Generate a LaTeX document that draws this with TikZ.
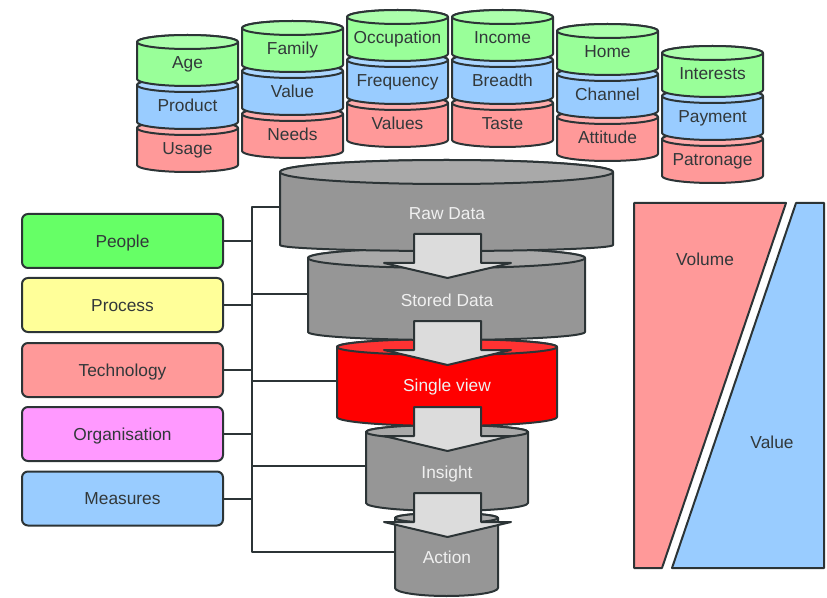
\documentclass[tikz,border=0pt]{standalone}
\usepackage{fontspec}
\setmainfont{Liberation Sans}
\begin{document}
\begin{tikzpicture}[x=0.75pt,y=0.75pt,line join=round]
% palette
\definecolor{ink}{RGB}{44,52,54}
\definecolor{txt}{RGB}{50,56,58}
\definecolor{grn}{RGB}{153,255,153}
\definecolor{grnlid}{RGB}{172,255,172}
\definecolor{blu}{RGB}{153,204,255}
\definecolor{blulid}{RGB}{172,214,255}
\definecolor{rd}{RGB}{255,153,153}
\definecolor{rdlid}{RGB}{255,172,172}
\definecolor{gry}{RGB}{150,150,150}
\definecolor{grylid}{RGB}{169,169,169}
\definecolor{hot}{RGB}{255,0,0}
\definecolor{hotlid}{RGB}{255,50,50}
\definecolor{arrowgray}{RGB}{220,220,220}
\definecolor{cpeople}{RGB}{102,255,102}
\definecolor{cprocess}{RGB}{255,255,153}
\definecolor{ctech}{RGB}{255,153,153}
\definecolor{corg}{RGB}{255,153,255}
\definecolor{cmeas}{RGB}{153,204,255}
\tikzset{
  outline/.style={draw=ink,line width=1.5pt},
  lbl/.style={text=txt,font=\fontsize{13}{15}\selectfont,inner sep=0pt,
    text height=9.3pt,text depth=0pt},
  funlbl/.style={lbl,text=white!94!black},
  factor/.style={outline,rounded corners=4.5pt,minimum width=150.75pt,
    minimum height=40.5pt,inner sep=0pt,lbl},
  conn/.style={draw=ink,line width=1.5pt},
  blockarrow/.style={outline,fill=arrowgray}
}
% cylinder: centre x, half width, lid centre y, lid radius, base centre y, base radius, body colour, lid colour
\newcommand\drum[8]{%
  \path[outline,fill=#7] ({#1-(#2)},{-(#3)}) -- ({#1-(#2)},{-(#5)})
    arc[start angle=180,end angle=360,x radius=#2,y radius=#6]
    -- ({#1+#2},{-(#3)})
    arc[start angle=0,end angle=180,x radius=#2,y radius=#4] -- cycle;
  \path[outline,fill=#8] ({#1},{-(#3)}) ellipse[x radius=#2,y radius=#4];
}
% three-part stack: left x, lid centre y of the top part
\newcommand\stack[2]{%
  \drum{#1+50.5}{50.5}{#2+86}{7}{#2+123}{7}{rd}{rdlid}
  \drum{#1+50.5}{50.5}{#2+43}{7}{#2+80}{7}{blu}{blulid}
  \drum{#1+50.5}{50.5}{#2}{7}{#2+37}{7}{grn}{grnlid}
}
% block arrow: top of shaft y
\newcommand\stagearrow[1]{%
  \path[blockarrow] (414,{-(#1)}) -- (481,{-(#1)}) -- (481,{-(#1+29)}) -- (511,{-(#1+29)})
    -- (447.5,{-(#1+44)}) -- (384,{-(#1+29)}) -- (414,{-(#1+29)}) -- cycle;
}
\useasboundingbox (0,0) rectangle (827,-598);

% attribute stacks
\stack{137}{42}
\stack{242}{28}
\stack{347}{17}
\stack{452}{17}
\stack{557}{31}
\stack{662}{53}
\node[lbl] (age) at (187.5,-62) {Age};
\node[lbl] (product) at (187.5,-105) {Product};
\node[lbl] (usage) at (187.5,-148) {Usage};
\node[lbl] (family) at (292.5,-48) {Family};
\node[lbl] (value) at (292.5,-91) {Value};
\node[lbl] (needs) at (292.5,-134) {Needs};
\node[lbl] (occupation) at (397.5,-37) {Occupation};
\node[lbl] (frequency) at (397.5,-80) {Frequency};
\node[lbl] (values) at (397.5,-123) {Values};
\node[lbl] (income) at (502.5,-37) {Income};
\node[lbl] (breadth) at (502.5,-80) {Breadth};
\node[lbl] (taste) at (502.5,-123) {Taste};
\node[lbl] (home) at (607.5,-51) {Home};
\node[lbl] (channel) at (607.5,-94) {Channel};
\node[lbl] (attitude) at (607.5,-137) {Attitude};
\node[lbl] (interests) at (712.5,-73) {Interests};
\node[lbl] (payment) at (712.5,-116) {Payment};
\node[lbl] (patronage) at (712.5,-159) {Patronage};

% funnel, drawn from the bottom up
\drum{446.5}{51.5}{518}{5}{588}{8}{gry}{grylid}
\drum{447}{81}{432}{7}{503}{8}{gry}{grylid}
\drum{447}{110}{347}{8}{417}{9}{hot}{hotlid}
\drum{446.5}{138.5}{258}{10}{332}{8}{gry}{grylid}
\drum{446.5}{166.5}{172}{12}{245}{6}{gry}{grylid}
\stagearrow{234}
\stagearrow{321}
\stagearrow{407}
\stagearrow{493}
\node[funlbl] (raw) at (447,-213) {Raw Data};
\node[funlbl] (stored) at (447,-300) {Stored Data};
\node[funlbl] (single) at (447,-385) {Single view};
\node[funlbl] (insight) at (447,-472) {Insight};
\node[funlbl] (action) at (447,-557) {Action};

% left edges of the funnel stages
\coordinate (rawL) at (280,-207);
\coordinate (storedL) at (308,-294);
\coordinate (singleL) at (337,-381);
\coordinate (insightL) at (366,-466);
\coordinate (actionL) at (395,-552);
\coordinate (busTop) at (252,-207);
\coordinate (busBot) at (252,-552);

% enablers
\node[factor,fill=cpeople] (people) at (122.5,-241) {People};
\node[factor,fill=cprocess] (process) at (122.5,-305) {Process};
\node[factor,fill=ctech] (technology) at (122.5,-370) {Technology};
\node[factor,fill=corg] (organisation) at (122.5,-434) {Organisation};
\node[factor,fill=cmeas] (measures) at (122.5,-498.5) {Measures};

% bus joining enablers to the funnel
\draw[conn] (rawL) -- (busTop) -- (busBot) -- (actionL);
\draw[conn] (storedL) -- (storedL -| busTop);
\draw[conn] (singleL) -- (singleL -| busTop);
\draw[conn] (insightL) -- (insightL -| busTop);
\foreach \n in {people,process,technology,organisation,measures}
  \draw[conn] (\n.east) -- (\n.east -| busTop);

% volume versus value
\path[outline,fill=rd] (634,-203) -- (786,-203) -- (662,-568) -- (634,-568) -- cycle;
\path[outline,fill=blu] (796,-203) -- (824,-203) -- (824,-568) -- (672,-568) -- cycle;
\node[lbl] (volume) at (705,-259) {Volume};
\node[lbl] (valuelbl) at (772,-442) {Value};
\end{tikzpicture}
\end{document}
